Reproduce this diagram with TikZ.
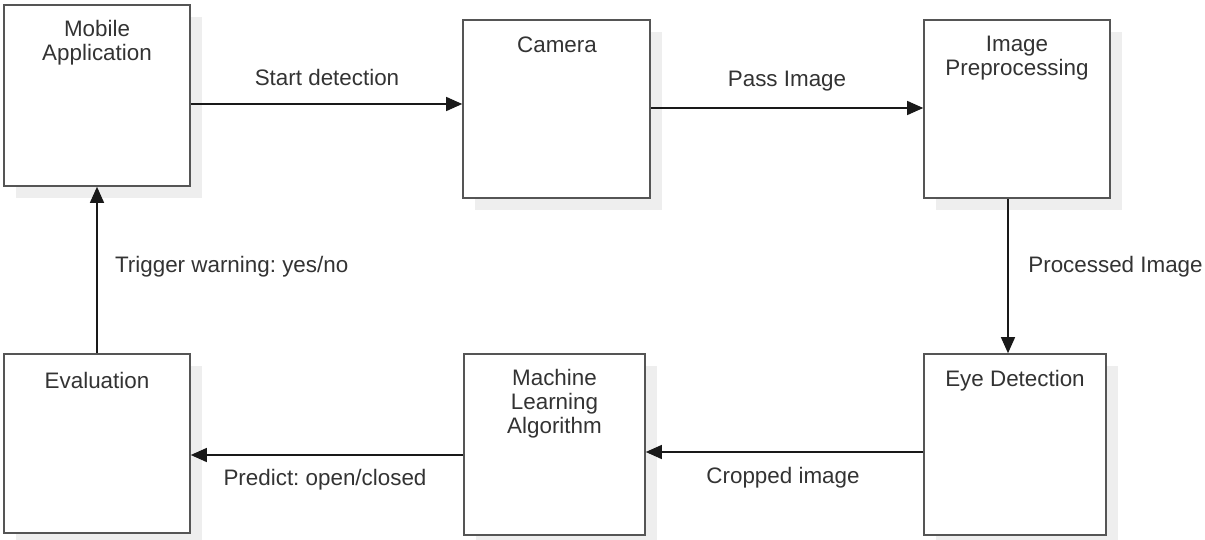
\documentclass[tikz,border=0pt]{standalone}
\usepackage{fontspec}
\setmainfont{Liberation Sans}
\frenchspacing
\usetikzlibrary{arrows.meta,shadows}
\definecolor{boxline}{HTML}{555555}
\definecolor{txt}{HTML}{333333}
\definecolor{shadowgray}{HTML}{EEEEEE}
\tikzset{
  blockbox/.style={draw=boxline, line width=1.6pt, fill=white, rectangle, inner sep=0pt,
    drop shadow={shadow xshift=12pt, shadow yshift=-12pt, fill=shadowgray, opacity=1}},
  boxtext/.style={text=txt, align=center, inner sep=0pt, font=\fontsize{22.4}{24}\selectfont},
  lbl/.style={text=txt, inner sep=0pt, font=\fontsize{22.4}{24}\selectfont\frenchspacing},
  arr/.style={draw=black!90, line width=1.3pt, -{Triangle[length=16pt,width=14pt]}},
}
\begin{document}
\begin{tikzpicture}[x=1pt,y=-1pt]
\useasboundingbox (0,0) rectangle (1205,540);
% boxes
\node[blockbox, minimum width=186pt, minimum height=181pt] (mob) at (97,95.5) {};
\node[blockbox, minimum width=187pt, minimum height=178pt] (cam) at (556.5,109) {};
\node[blockbox, minimum width=186pt, minimum height=178pt] (pre) at (1017,109) {};
\node[blockbox, minimum width=182pt, minimum height=181pt] (eye) at (1015,444.5) {};
\node[blockbox, minimum width=181pt, minimum height=181pt] (mla) at (554.5,444.5) {};
\node[blockbox, minimum width=186pt, minimum height=179pt] (eva) at (97,443.5) {};
% box texts
\node[boxtext] (tmob) at (97,43) {Mobile\\Application};
\node[boxtext] (tcam) at (557,45) {Camera};
\node[boxtext] (tpre) at (1017,58.5) {Image\\Preprocessing};
\node[boxtext] (teye) at (1015,380.5) {Eye Detection};
\node[boxtext] (tmla) at (554.5,403.5) {Machine\\Learning\\Algorithm};
\node[boxtext] (teva) at (97,380) {Evaluation};
% connectors
\draw[arr] (mob.east |- 0,104) -- (cam.west |- 0,104);
\draw[arr] (cam.east |- 0,108) -- (pre.west |- 0,108);
\draw[arr] (pre.south -| 1008,0) -- (eye.north -| 1008,0);
\draw[arr] (eye.west |- 0,452) -- (mla.east |- 0,452);
\draw[arr] (mla.west |- 0,455) -- (eva.east |- 0,455);
\draw[arr] (eva.north -| 97,0) -- (mob.south -| 97,0);
% connector labels
\node[lbl] (lstart) at (327,77) {Start detection};
\node[lbl] (lpass) at (787,81) {Pass Image};
\node[lbl] (lproc) at (1115.5,267) {Processed Image};
\node[lbl] (lcrop) at (783,477.5) {Cropped image};
\node[lbl] (lpred) at (325,480) {Predict: open/closed};
\node[lbl] (ltrig) at (231.7,267) {Trigger warning: yes/no};
\end{tikzpicture}
\end{document}
